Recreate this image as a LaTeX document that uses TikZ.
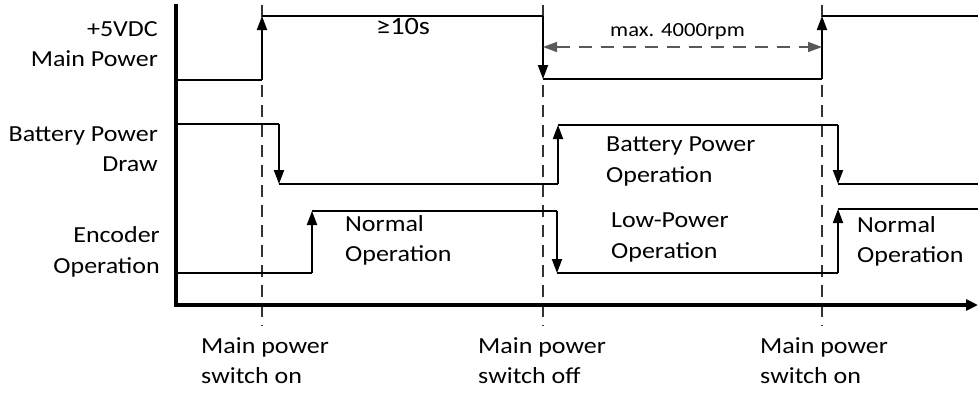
\documentclass[tikz,border=0pt]{standalone}
\usepackage{fontspec}
\setmainfont{Carlito}[FakeStretch=1.13]
\usetikzlibrary{arrows.meta,positioning,calc}

\begin{document}
\begin{tikzpicture}[
  x=1pt, y=-1pt,
  signal/.style={draw, line width=2pt},
  rise/.style={signal, -{Triangle[length=14pt,width=10pt]}},
  axis/.style={draw, line width=4pt},
  marker/.style={draw, black!80, line width=1.2pt, dash pattern=on 12pt off 8pt},
  span/.style={draw, gray!70!black, line width=1.4pt, dash pattern=on 13pt off 9pt,
               {Triangle[length=14pt,width=10pt]}-{Triangle[length=14pt,width=10pt]}},
  trace/.style={font=\fontsize{23}{30.5}\selectfont, align=right, anchor=east, inner sep=0pt},
  state/.style={font=\fontsize{23}{30.5}\selectfont, align=left, anchor=north west, inner sep=0pt},
  event/.style={state},
  note/.style={font=\fontsize{20}{24}\selectfont, anchor=base west, inner sep=0pt},
]
  \useasboundingbox (0,0) rectangle (978,392);

  % switching instants
  \coordinate (on1) at (262,0);
  \coordinate (off) at (543,0);
  \coordinate (on2) at (822,0);

  % dashed markers
  \draw[marker] (on1 |- 0,5) -- (on1 |- 0,326);
  \draw[marker] (off |- 0,5) -- (off |- 0,326);
  \draw[marker] (on2 |- 0,5) -- (on2 |- 0,326);

  % axes
  \draw[axis] (176,4) -- (176,307);
  \draw[axis, -{Triangle[length=12pt,width=11pt]}] (174,305) -- (978,305);

  % +5VDC main power
  \draw[signal] (176,80) -- (on1 |- 0,80);
  \draw[rise] (on1 |- 0,80) -- (on1 |- 0,16);
  \draw[signal] (on1 |- 0,16) -- (off |- 0,16);
  \draw[rise] (off |- 0,16) -- (off |- 0,79);
  \draw[signal] (off |- 0,79) -- (on2 |- 0,79);
  \draw[rise] (on2 |- 0,79) -- (on2 |- 0,16);
  \draw[signal] (on2 |- 0,16) -- (978,16);

  % battery power draw
  \draw[signal] (176,124) -- (279,124);
  \draw[rise] (279,124) -- (279,184);
  \draw[signal] (279,184) -- (558,184);
  \draw[rise] (558,184) -- (558,125);
  \draw[signal] (558,125) -- (838,125);
  \draw[rise] (838,125) -- (838,184);
  \draw[signal] (838,184) -- (978,184);

  % encoder operation
  \draw[signal] (176,273) -- (312,273);
  \draw[rise] (312,273) -- (312,211);
  \draw[signal] (312,211) -- (557,211);
  \draw[rise] (557,211) -- (557,273);
  \draw[signal] (557,273) -- (838,273);
  \draw[rise] (838,273) -- (838,209);
  \draw[signal] (838,209) -- (978,209);

  % speed limit while off
  \draw[span] (off |- 0,47) -- (on2 |- 0,47);
  \node[note] (speed) at (610,36) {max. 4000rpm};
  \node[note] (hold) at (376,34) {\fontsize{25}{28}\selectfont ≥10s};

  % trace names
  \node[trace] (mainlbl) at (158,44) {+5VDC\\Main Power};
  \node[trace] (battlbl) at (158,149) {Battery Power\\Draw};
  \node[trace] (enclbl) at (160,252) {Encoder\\Operation};

  % states
  \node[state] (battop) at (606,137) {Battery Power\\Operation};
  \node[state] (normal1) at (345,215) {Normal\\Operation};
  \node[state] (lowpow) at (611,213) {Low-Power\\Operation};
  \node[state] (normal2) at (857,216) {Normal\\Operation};

  % events
  \node[event] (ev1) at (201,337) {Main power\\switch on};
  \node[event] (ev2) at (478,337) {Main power\\switch off};
  \node[event] (ev3) at (760,337) {Main power\\switch on};
\end{tikzpicture}
\end{document}
